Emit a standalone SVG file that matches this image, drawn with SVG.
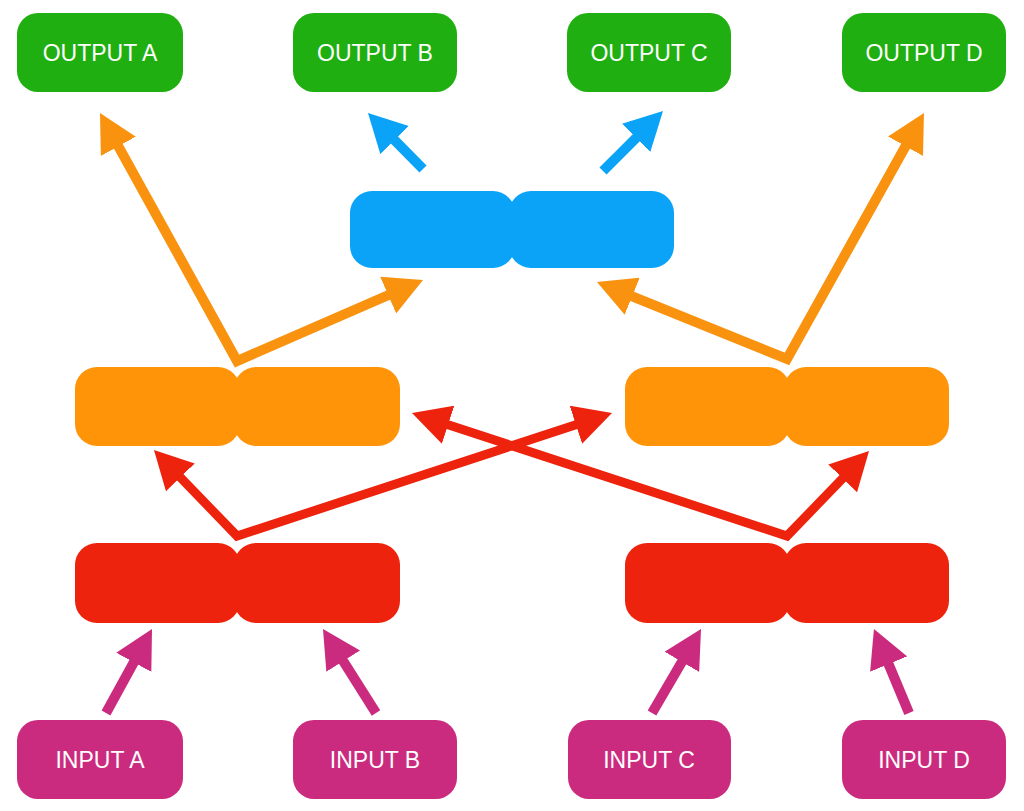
<svg xmlns="http://www.w3.org/2000/svg" width="1024" height="811" viewBox="0 0 1024 811">
<style>
.out{fill:#1FAF10}
.inp{fill:#CB2B7E}
.blue{fill:#0AA3F7}
.orng{fill:#FF9408}
.red{fill:#EE230D}
.lbl{font-family:"Liberation Sans",Arial,Helvetica,sans-serif;font-size:23px;fill:#ffffff;text-anchor:middle}
.c{fill:none;stroke-linejoin:miter;stroke-miterlimit:10}
</style>
<defs>
<marker id="hm" markerUnits="userSpaceOnUse" viewBox="0 0 38 40" markerWidth="38" markerHeight="40" refX="8" refY="20" orient="auto-start-reverse"><path d="M0,0 L38,20 L0,40 z" fill="#CB2B7E"/></marker>
<marker id="hr" markerUnits="userSpaceOnUse" viewBox="0 0 38 40" markerWidth="38" markerHeight="40" refX="8" refY="20" orient="auto-start-reverse"><path d="M0,0 L38,20 L0,40 z" fill="#EE230D"/></marker>
<marker id="ho" markerUnits="userSpaceOnUse" viewBox="0 0 38 40" markerWidth="38" markerHeight="40" refX="8" refY="20" orient="auto-start-reverse"><path d="M0,0 L38,20 L0,40 z" fill="#F9930F"/></marker>
<marker id="hb" markerUnits="userSpaceOnUse" viewBox="0 0 38 40" markerWidth="38" markerHeight="40" refX="8" refY="20" orient="auto-start-reverse"><path d="M0,0 L38,20 L0,40 z" fill="#0AA3F7"/></marker>
</defs>
<rect width="1024" height="811" fill="#ffffff"/>

<g id="connectors">
<path class="c" d="M106,713 L137.6,655.3" stroke="#CB2B7E" stroke-width="10" marker-end="url(#hm)"/>
<path class="c" d="M376,713 L339,654.4" stroke="#CB2B7E" stroke-width="10" marker-end="url(#hm)"/>
<path class="c" d="M652,713 L685.9,654.9" stroke="#CB2B7E" stroke-width="10" marker-end="url(#hm)"/>
<path class="c" d="M909,713 L885.5,656.7" stroke="#CB2B7E" stroke-width="10" marker-end="url(#hm)"/>
<path class="c" d="M174.8,471.6 L237,536 L583.5,422.3" stroke="#EE230D" stroke-width="9" marker-start="url(#hr)" marker-end="url(#hr)"/>
<path class="c" d="M848.2,472.6 L787,536 L440.5,422.3" stroke="#EE230D" stroke-width="9" marker-start="url(#hr)" marker-end="url(#hr)"/>
<path class="c" d="M114.5,139.3 L237,361 L395.5,292" stroke="#F9930F" stroke-width="10" marker-start="url(#ho)" marker-end="url(#ho)"/>
<path class="c" d="M909.4,139.2 L787,359 L624.8,293.3" stroke="#F9930F" stroke-width="10" marker-start="url(#ho)" marker-end="url(#ho)"/>
<path class="c" d="M423,169 L389,134.4" stroke="#0AA3F7" stroke-width="10" marker-end="url(#hb)"/>
<path class="c" d="M603,171 L641.8,132.2" stroke="#0AA3F7" stroke-width="10" marker-end="url(#hb)"/>
</g>

<g id="output-a"><rect class="out" x="17" y="13" width="166" height="79" rx="21"/><text class="lbl" x="100" y="61">OUTPUT A</text></g>
<g id="output-b"><rect class="out" x="293" y="13" width="164" height="79" rx="21"/><text class="lbl" x="375" y="61">OUTPUT B</text></g>
<g id="output-c"><rect class="out" x="567" y="13" width="164" height="79" rx="21"/><text class="lbl" x="649" y="61">OUTPUT C</text></g>
<g id="output-d"><rect class="out" x="842" y="13" width="164" height="79" rx="21"/><text class="lbl" x="924" y="61">OUTPUT D</text></g>

<g id="blue-pair"><rect class="blue" x="350" y="191" width="165" height="77" rx="22"/><rect class="blue" x="509" y="191" width="165" height="77" rx="22"/></g>

<g id="orange-left"><rect class="orng" x="75" y="367" width="165" height="79" rx="22"/><rect class="orng" x="234" y="367" width="166" height="79" rx="22"/></g>
<g id="orange-right"><rect class="orng" x="625" y="367" width="165" height="79" rx="22"/><rect class="orng" x="784" y="367" width="165" height="79" rx="22"/></g>

<g id="red-left"><rect class="red" x="75" y="543" width="165" height="80" rx="22"/><rect class="red" x="234" y="543" width="166" height="80" rx="22"/></g>
<g id="red-right"><rect class="red" x="625" y="543" width="165" height="80" rx="22"/><rect class="red" x="784" y="543" width="165" height="80" rx="22"/></g>

<g id="input-a"><rect class="inp" x="17" y="720" width="166" height="79" rx="21"/><text class="lbl" x="100" y="768">INPUT A</text></g>
<g id="input-b"><rect class="inp" x="293" y="720" width="164" height="79" rx="21"/><text class="lbl" x="375" y="768">INPUT B</text></g>
<g id="input-c"><rect class="inp" x="568" y="720" width="163" height="79" rx="21"/><text class="lbl" x="649" y="768">INPUT C</text></g>
<g id="input-d"><rect class="inp" x="842" y="720" width="164" height="79" rx="21"/><text class="lbl" x="924" y="768">INPUT D</text></g>
</svg>
